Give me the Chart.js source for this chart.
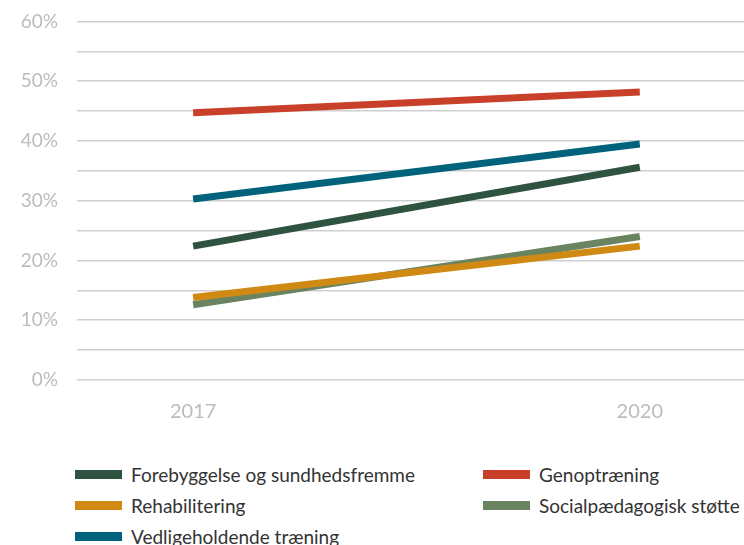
<!DOCTYPE html>
<html>
<head>
<meta charset="utf-8">
<script src="https://cdn.jsdelivr.net/npm/chart.js@4"></script>
<style>
  body { margin: 0; background: #fff; font-family: Lato, "Open Sans", sans-serif; }
  #wrap { position: relative; width: 744px; height: 545px; overflow: hidden; }
  #box { position: absolute; left: 0; top: -9px; width: 744px; height: 445px; }
  .leg { position: absolute; display: flex; align-items: center; font-size: 19px; color: #333; white-space: nowrap; }
  .leg span.sw { display: inline-block; width: 47px; height: 9px; margin-right: 9px; }
</style>
</head>
<body>
<div id="wrap">
  <div id="box"><canvas id="trendChart"></canvas></div>
  <div id="legend"></div>
</div>
<script>
const years = [2017, 2020];
const forebyggelse = [22.4, 35.6];
const genoptraening = [44.7, 48.2];
const rehabilitering = [13.8, 22.4];
const socialpaedagogisk = [12.6, 24.0];
const vedligeholdende = [30.3, 39.5];
const yTicks = [0, 10, 20, 30, 40, 50, 60];

const series = [
  { label: "Forebyggelse og sundhedsfremme", data: forebyggelse, color: "#2f5341" },
  { label: "Rehabilitering", data: rehabilitering, color: "#d08a14" },
  { label: "Vedligeholdende træning", data: vedligeholdende, color: "#00637b" },
  { label: "Genoptræning", data: genoptraening, color: "#c9402a" },
  { label: "Socialpædagogisk støtte", data: socialpaedagogisk, color: "#6a8462" }
];

// custom legend in two columns
const legendPos = [
  [75, 475], [75, 506], [75, 537], [483, 475], [483, 506]
];
const legend = document.getElementById("legend");
series.forEach(function (s, i) {
  const el = document.createElement("div");
  el.className = "leg";
  el.style.left = legendPos[i][0] + "px";
  el.style.top = (legendPos[i][1] - 12) + "px";
  el.innerHTML = '<span class="sw" style="background:' + s.color + '"></span>' + s.label;
  legend.appendChild(el);
});

const ctx = document.getElementById("trendChart").getContext("2d");
new Chart(ctx, {
  type: "line",
  data: {
    datasets: series.map(function (s) {
      return {
        label: s.label,
        data: years.map(function (y, i) { return { x: y, y: s.data[i] }; }),
        borderColor: s.color,
        backgroundColor: s.color,
        borderWidth: 7,
        pointRadius: 0,
        borderCapStyle: "butt",
        tension: 0
      };
    })
  },
  options: {
    responsive: true,
    maintainAspectRatio: false,
    animation: false,
    layout: { padding: { top: 5, right: 0, left: 0, bottom: 0 } },
    plugins: {
      legend: { display: false },
      tooltip: { enabled: false }
    },
    scales: {
      x: {
        type: "linear",
        min: 2016.22,
        max: 2020.7,
        afterBuildTicks: function (scale) {
          scale.ticks = years.map(function (v) { return { value: v }; });
        },
        ticks: {
          color: "#bcbcbc",
          font: { family: "Lato", size: 20 },
          padding: 12,
          callback: function (v) { return String(v); }
        },
        grid: { display: false },
        border: { display: false }
      },
      y: {
        min: 0,
        max: 60,
        afterBuildTicks: function (scale) {
          const t = [];
          for (let v = 0; v <= 60; v += 5) t.push({ value: v });
          scale.ticks = t;
        },
        afterFit: function (scale) { scale.width = 77; },
        ticks: {
          color: "#bcbcbc",
          font: { family: "Lato", size: 19 },
          padding: 19,
          callback: function (v) { return yTicks.indexOf(v) >= 0 ? v + "%" : ""; }
        },
        grid: { color: "#cfcfcf", lineWidth: 1.5, drawTicks: false },
        border: { display: false }
      }
    }
  }
});
</script>
</body>
</html>
